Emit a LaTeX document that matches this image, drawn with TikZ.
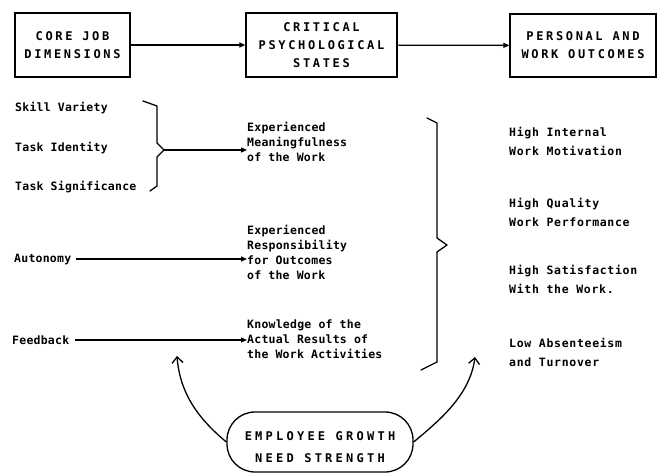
\documentclass[tikz,border=0pt]{standalone}
\usepackage{fontspec}
\newfontfamily\lettering{DejaVu Sans Mono}[LetterSpace=2]
\newfontfamily\widelettering{DejaVu Sans Mono}[LetterSpace=6]
\newfontfamily\capsletter{DejaVu Sans Mono}[LetterSpace=22]
\newfontfamily\widecaps{DejaVu Sans Mono}[LetterSpace=27]
\usetikzlibrary{arrows.meta}
\begin{document}
\begin{tikzpicture}[x=1pt,y=-1pt,
  stagebox/.style={draw,line width=1.3pt,inner sep=0pt,align=center,
    font=\capsletter\bfseries\fontsize{12}{18}\selectfont},
  item/.style={anchor=west,align=left,inner sep=0pt,
    font=\lettering\bfseries\fontsize{11.5}{15}\selectfont},
  outcome/.style={item,font=\widelettering\bfseries\fontsize{11.5}{19}\selectfont},
  flow/.style={line width=1.2pt,-{Triangle[length=6pt,width=5pt]}},
  brace/.style={line width=1.3pt,line join=round,line cap=round},
  growth/.style={line width=1.3pt,-{Straight Barb[length=6pt,width=11pt,line width=1.3pt]}}]
\useasboundingbox (0,0) rectangle (659,474);

% the three stages
\node[stagebox,minimum width=115pt,minimum height=64pt] (core) at (72.5,45) {CORE JOB\\DIMENSIONS};
\node[stagebox,minimum width=151pt,minimum height=64pt] (states) at (321.5,45) {CRITICAL\\PSYCHOLOGICAL\\STATES};
\node[stagebox,minimum width=146pt,minimum height=63pt] (outcomes) at (583,45.5) {PERSONAL AND\\WORK OUTCOMES};
\draw[flow] (core) -- (states);
\draw[flow] (states) -- (outcomes);

% core job dimensions
\node[item] (skill) at (15,108) {Skill Variety};
\node[item] (ident) at (15,148) {Task Identity};
\node[item] (signif) at (15,187) {Task Significance};
\node[item] (auto) at (14,259) {Autonomy};
\node[item] (feed) at (12,340) {Feedback};

% psychological states
\node[item] (meaning) at (247,142) {Experienced\\Meaningfulness\\of the Work};
\node[item] (respons) at (247,252) {Experienced\\Responsibility\\for Outcomes\\of the Work};
\node[item] (know) at (247,339) {Knowledge of the\\Actual Results of\\the Work Activities};

% outcomes
\node[outcome] (motiv) at (509,141) {High Internal\\Work Motivation};
\node[outcome] (quality) at (509,212) {High Quality\\Work Performance};
\node[outcome] (satisf) at (509,279) {High Satisfaction\\With the Work.};
\node[outcome] (absent) at (509,352) {Low Absenteeism\\and Turnover};

% brace gathering the first three dimensions
\coordinate (tip1) at (164,150);
\draw[brace] (143,101) -- (157,106) -- (157,143) -- (tip1) -- (157,157) -- (157,186) -- (150,191);
\draw[flow] (tip1) -- (tip1 -| meaning.west);
\draw[flow] (auto.east) ++(5,0) coordinate (autostart) -- (autostart -| respons.west);
\draw[flow] (feed.east) ++(6,0) coordinate (feedstart) -- (feedstart -| know.west);

% brace from states to outcomes
\draw[brace] (427,118) -- (437,123) -- (437,238) -- (447,245) -- (437,252) -- (437,362) -- (421,370);

% moderator
\node[draw,line width=1.3pt,rounded corners=28pt,minimum width=186pt,minimum height=60pt] (need) at (320,442) {};
\node[align=center,inner sep=0pt,font=\widecaps\bfseries\fontsize{12}{22}\selectfont] (needtext) at (320,447)
  {EMPLOYEE GROWTH\\NEED STRENGTH};
\coordinate (lefthead) at (177,356);
\coordinate (righthead) at (475,357);
\draw[growth] (need.west) .. controls (200,420) and (180,395) .. (lefthead);
\draw[growth] (need.east) .. controls (440,420) and (470,395) .. (righthead);
\end{tikzpicture}
\end{document}
